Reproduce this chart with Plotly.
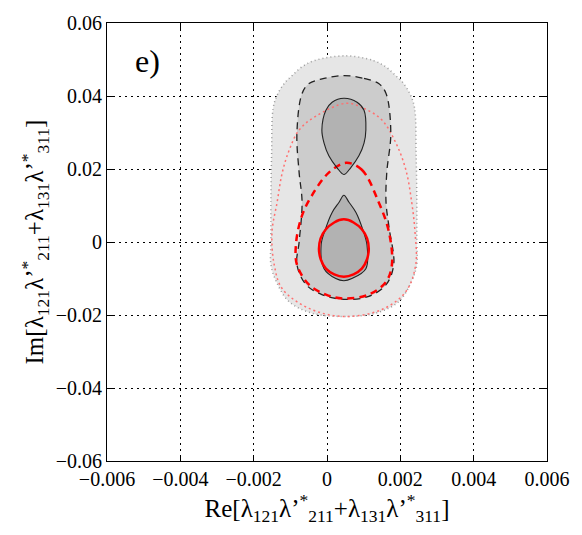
import plotly.graph_objects as go

# ---- data ----
outer_x = [0.00052, 0.00127, 0.0016, 0.00187, 0.00209, 0.00228, 0.00239, 0.00243, 0.00245, 0.00245, 0.00245, 0.0023, 0.00196, 0.00133, 0.00046,
           -0.00041, -0.00104, -0.00138, -0.00153, -0.00153, -0.00153, -0.00151, -0.00147, -0.00136, -0.00117, -0.00095, -0.00068, -0.00035, 0.00052]
outer_y = [0.0510, 0.0497, 0.0480, 0.0456, 0.0434, 0.0402, 0.0366, 0.0244, 0.0109, 0.0, -0.0062, -0.0109, -0.0163, -0.0195, -0.0204,
           -0.0195, -0.0163, -0.0109, -0.0062, 0.0, 0.0109, 0.0244, 0.0366, 0.0402, 0.0434, 0.0456, 0.0480, 0.0497, 0.0510]

dashed_x = [0.00046, 0.00101, 0.00141, 0.00161, 0.00174, 0.00163, 0.00161, 0.00169, 0.00182, 0.00161, 0.00114, 0.00046,
            -0.00014, -0.00057, -0.00082, -0.00076, -0.00068, -0.00076, -0.00082, -0.00068, -0.00049, -0.00008, 0.00046]
dashed_y = [0.0456, 0.0448, 0.0434, 0.0407, 0.0299, 0.0190, 0.0109, 0.0041, -0.0062, -0.0117, -0.0149, -0.0157,
            -0.0144, -0.0117, -0.0062, 0.0, 0.0109, 0.0190, 0.0299, 0.0407, 0.0434, 0.0448, 0.0456]

upper_x = [0.00046, 0.00065, 0.00087, 0.00101, 0.00106, 0.00101, 0.00082, 0.00046, 0.00014, -0.00003, -0.00014, -0.00008, 0.00005, 0.00027, 0.00046]
upper_y = [0.0185, 0.0204, 0.0236, 0.0271, 0.0307, 0.0361, 0.0383, 0.0394, 0.0383, 0.0361, 0.0307, 0.0271, 0.0236, 0.0204, 0.0185]

lower_x = [0.00046, 0.00060, 0.00079, 0.00098, 0.00109, 0.00106, 0.00068, 0.00046, 0.00024, -0.00008, -0.00016, -0.00005, 0.00014, 0.00033, 0.00046]
lower_y = [0.0128, 0.0109, 0.0081, 0.0033, -0.0008, -0.0073, -0.0100, -0.0106, -0.0100, -0.0073, -0.0008, 0.0033, 0.0081, 0.0109, 0.0128]

red_solid_x = [0.00046, 0.00095, 0.00114, 0.00095, 0.00046, -0.00003, -0.00022, -0.00003, 0.00046]
red_solid_y = [0.0062, 0.0035, -0.0019, -0.0073, -0.0095, -0.0073, -0.0019, 0.0035, 0.0062]

red_dash_x = [0.00052, 0.00095, 0.00141, 0.00169, 0.00177, 0.00161, 0.00114, 0.00046, -0.00003, -0.00049, -0.00082, -0.00084, -0.00068, -0.00041, 0.00005, 0.00052]
red_dash_y = [0.0217, 0.0198, 0.0109, 0.0027, -0.0062, -0.0109, -0.0144, -0.0155, -0.0144, -0.0117, -0.0062, 0.0, 0.0073, 0.0128, 0.0190, 0.0217]

red_dot_x = [0.00052, 0.00101, 0.0015, 0.00188, 0.00215, 0.00231, 0.00240, 0.00242, 0.00215, 0.0015, 0.00046,
             -0.00049, -0.00122, -0.00144, -0.0015, -0.00136, -0.00122, -0.00103, -0.00076, -0.0003, 0.00052]
red_dot_y = [0.0380, 0.0366, 0.0334, 0.0271, 0.0198, 0.0109, 0.0027, -0.0062, -0.0136, -0.0185, -0.0204,
             -0.0182, -0.0128, -0.0062, 0.0027, 0.0109, 0.0190, 0.0252, 0.0307, 0.0345, 0.0380]

x_ticks = [-0.006, -0.004, -0.002, 0, 0.002, 0.004, 0.006]
x_ticktext = ["\u22120.006", "\u22120.004", "\u22120.002", "0", "0.002", "0.004", "0.006"]
y_ticks = [-0.06, -0.04, -0.02, 0, 0.02, 0.04, 0.06]
y_ticktext = ["\u22120.06", "\u22120.04", "\u22120.02", "0", "0.02", "0.04", "0.06"]

panel_label = "e)"
x_title = "Re[\u03bb<sub>121</sub>\u03bb\u2019<sup>*</sup><sub>211</sub>+\u03bb<sub>131</sub>\u03bb\u2019<sup>*</sup><sub>311</sub>]"
y_title = "Im[\u03bb<sub>121</sub>\u03bb\u2019<sup>*</sup><sub>211</sub>+\u03bb<sub>131</sub>\u03bb\u2019<sup>*</sup><sub>311</sub>]"

SERIF = "Liberation Serif, Times New Roman, serif"

fig = go.Figure()

def region(x, y, fill, line_color, dash, width):
    fig.add_trace(go.Scatter(x=x, y=y, mode="lines", fill="toself", fillcolor=fill,
                             line=dict(color=line_color, dash=dash, width=width, shape="spline", smoothing=1.0),
                             hoverinfo="skip", showlegend=False))

def curve(x, y, color, dash, width):
    fig.add_trace(go.Scatter(x=x, y=y, mode="lines",
                             line=dict(color=color, dash=dash, width=width, shape="spline", smoothing=1.0),
                             hoverinfo="skip", showlegend=False))

region(outer_x, outer_y, "#e6e6e6", "#9a9a9a", "1px,3px", 1.5)
region(dashed_x, dashed_y, "#cccccc", "rgba(0,0,0,0)", "solid", 0)
region(upper_x, upper_y, "#b2b2b2", "rgba(0,0,0,0)", "solid", 0)
region(lower_x, lower_y, "#b2b2b2", "rgba(0,0,0,0)", "solid", 0)

curve(red_dot_x, red_dot_y, "#ff7070", "2px,3px", 1.5)
curve(dashed_x, dashed_y, "#222222", "7px,5px", 1.3)
curve(red_dash_x, red_dash_y, "#ff0000", "7px,5px", 2.5)
curve(upper_x, upper_y, "#222222", "solid", 1.1)
curve(lower_x, lower_y, "#222222", "solid", 1.1)
curve(red_solid_x, red_solid_y, "#ff0000", "solid", 2.5)

axis_common = dict(showline=True, linecolor="black", linewidth=1, mirror="ticks",
                   ticks="inside", ticklen=6, tickcolor="black",
                   showgrid=True, gridcolor="black", gridwidth=1, griddash="2px,4px",
                   zeroline=False, tickfont=dict(family=SERIF, size=20, color="black"))

fig.update_layout(
    width=582, height=535,
    margin=dict(l=107, r=34, t=19, b=74),
    paper_bgcolor="white", plot_bgcolor="white",
    font=dict(family=SERIF, color="black"),
    xaxis=dict(range=[-0.006, 0.006], tickvals=x_ticks, ticktext=x_ticktext,
               title=dict(text=x_title, font=dict(family=SERIF, size=25, color="black"), standoff=4),
               **axis_common),
    yaxis=dict(range=[-0.06, 0.06], tickvals=y_ticks, ticktext=y_ticktext,
               title=dict(text=y_title, font=dict(family=SERIF, size=25, color="black"), standoff=4),
               **axis_common),
    annotations=[dict(text=panel_label, x=0.091, y=0.914, xref="paper", yref="paper",
                      xanchor="center", yanchor="middle",
                      showarrow=False, font=dict(family=SERIF, size=32, color="black"))],
)

fig.write_html("out.html")
